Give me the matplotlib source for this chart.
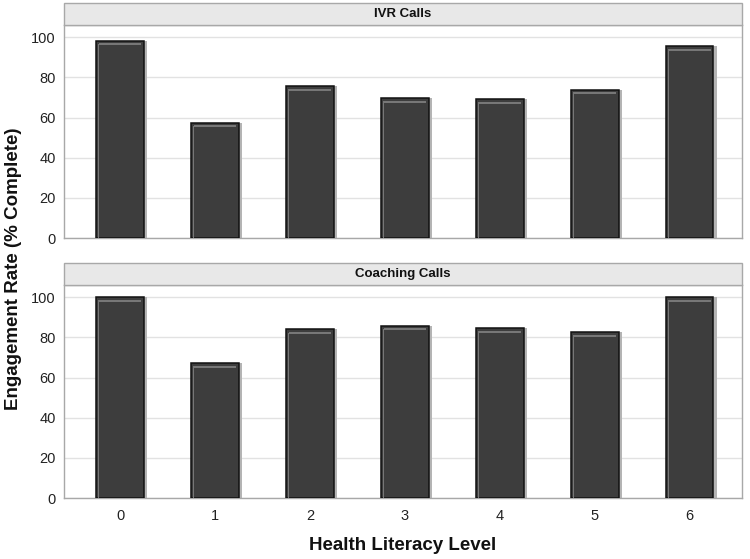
import matplotlib
matplotlib.use("Agg")
import matplotlib.pyplot as plt
from matplotlib.patches import Rectangle

levels = [0, 1, 2, 3, 4, 5, 6]
ivr_rate = [98.3, 57.5, 75.6, 69.7, 69.2, 73.8, 95.5]
coaching_rate = [100.0, 67.0, 83.9, 85.7, 84.4, 82.7, 100.0]
panels = [("IVR Calls", ivr_rate), ("Coaching Calls", coaching_rate)]
yticks = [0, 20, 40, 60, 80, 100]

BAR = "#3d3d3d"
SHADOW = "#b4b4b4"
HILITE = "#777777"
FRAME = "#a8a8a8"
GRID = "#e2e2e2"
STRIP = "#e8e8e8"

plt.rcParams["font.family"] = ["Liberation Sans", "DejaVu Sans"]

fig = plt.figure(figsize=(7.5, 5.59), dpi=100)
fig.patch.set_facecolor("white")

# axes rectangles in figure fraction (left, bottom, width, height)
ax_boxes = [(0.0853, 0.574, 0.904, 0.381), (0.0853, 0.109, 0.904, 0.381)]
strip_h = 22 / 559

axes = []
for (title, vals), box in zip(panels, ax_boxes):
    ax = fig.add_axes(box)
    axes.append(ax)
    w = 0.5
    # soft shadow to the right
    ax.bar([x + 0.035 for x in levels], vals, width=w, color=SHADOW, zorder=2, linewidth=0)
    ax.bar(levels, vals, width=w, color=BAR, edgecolor="#111111", linewidth=1.1, zorder=3)
    # light bevel along top and left edge
    ax.bar(levels, [1.0] * len(vals), bottom=[v - 2.3 for v in vals], width=w - 0.05,
           color=HILITE, linewidth=0, zorder=4)
    ax.bar([x - w / 2 + 0.022 for x in levels], [v - 1.5 for v in vals], width=0.012,
           align="edge", color=HILITE, linewidth=0, zorder=4)

    ax.set_xlim(-0.59, 6.55)
    ax.set_ylim(0, 106)
    ax.set_yticks(yticks)
    ax.yaxis.grid(True, color=GRID, lw=1)
    ax.set_axisbelow(True)
    for s in ax.spines.values():
        s.set_color(FRAME)
        s.set_linewidth(1)
    ax.tick_params(axis="y", length=0, labelsize=10.5, colors="#222222", pad=6)
    ax.tick_params(axis="x", length=0, labelsize=10.5, colors="#222222", pad=8)
    ax.set_xticks(levels)
    ax.set_xticklabels([str(l) for l in levels])

    # header strip
    x0, y0, wd, ht = box
    strip = Rectangle((x0, y0 + ht), wd, strip_h, transform=fig.transFigure,
                      facecolor=STRIP, edgecolor=FRAME, linewidth=1)
    fig.patches.append(strip)
    fig.text(x0 + wd / 2, y0 + ht + strip_h / 2, title, ha="center", va="center",
             fontsize=9.5, fontweight="bold", color="#111111")

axes[0].tick_params(axis="x", labelbottom=False)

fig.text(0.018, 0.52, "Engagement Rate (% Complete)", rotation=90, ha="center", va="center",
         fontsize=13.5, fontweight="bold", color="#111111")
fig.text(0.537, 0.025, "Health Literacy Level", ha="center", va="center",
         fontsize=13.5, fontweight="bold", color="#111111")

fig.savefig("out.png", dpi=100, facecolor="white")
